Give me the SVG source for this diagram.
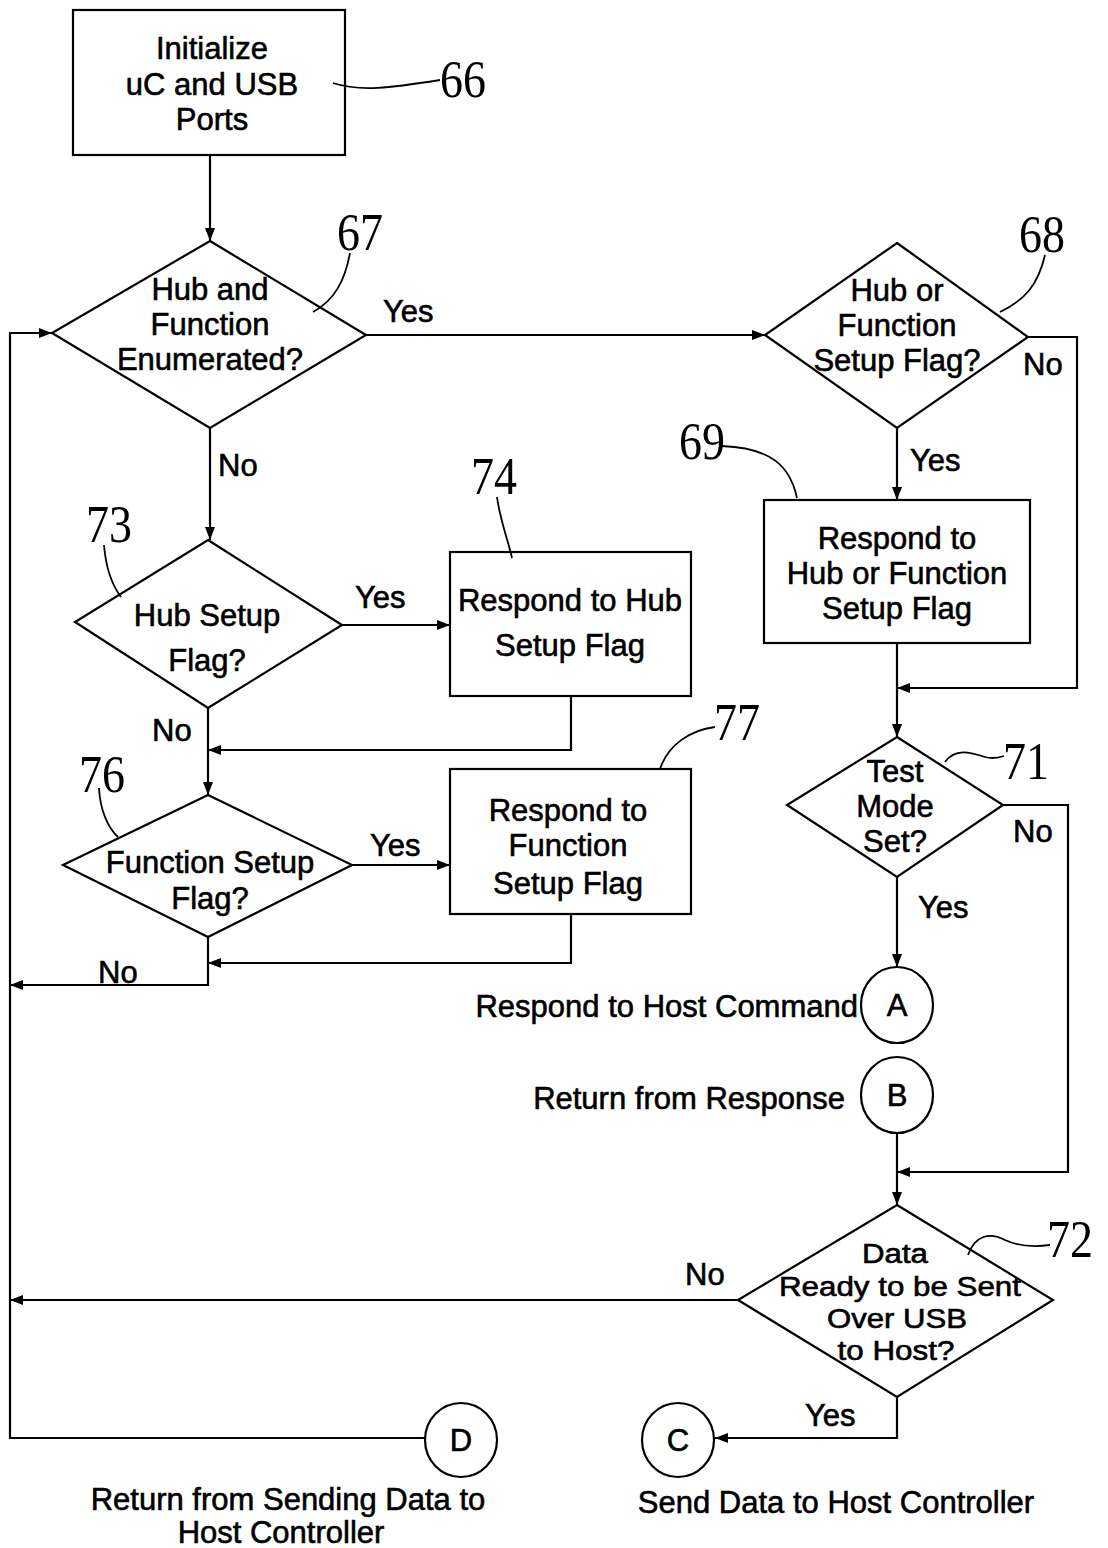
<svg xmlns="http://www.w3.org/2000/svg" width="1108" height="1548" viewBox="0 0 1108 1548">
<style>
.s{fill:#fff;stroke:#000;stroke-width:2.2}
.t{font-family:"Liberation Sans",Arial,sans-serif;font-size:31px;fill:#000;stroke:#000;stroke-width:0.6;text-anchor:middle}
.l{font-family:"Liberation Sans",Arial,sans-serif;font-size:31px;fill:#000;stroke:#000;stroke-width:0.6}
.d{font-family:"Liberation Sans",Arial,sans-serif;font-size:27px;fill:#000;stroke:#000;stroke-width:0.6;text-anchor:middle}
.n{font-family:"Liberation Serif","Times New Roman",serif;font-size:46px;fill:#000}
.c{fill:none;stroke:#000;stroke-width:2.2}
.ld{fill:none;stroke:#000;stroke-width:1.8}
</style>
<defs>
<marker id="ah" markerUnits="userSpaceOnUse" markerWidth="13" markerHeight="10" refX="13" refY="5" orient="auto">
<path d="M0,0 L13,5 L0,10 z" fill="#000"/>
</marker>
</defs>
<rect width="1108" height="1548" fill="#fff"/>
<g id="connectors">
<path class="c" d="M210,155 V241" marker-end="url(#ah)"/>
<path class="c" d="M366,335 H765" marker-end="url(#ah)"/>
<path class="c" d="M1028,337 H1077 V688 H897" marker-end="url(#ah)"/>
<path class="c" d="M897,428 V500" marker-end="url(#ah)"/>
<path class="c" d="M897,643 V737" marker-end="url(#ah)"/>
<path class="c" d="M1003,805 H1068 V1172 H897" marker-end="url(#ah)"/>
<path class="c" d="M897,877 V967" marker-end="url(#ah)"/>
<path class="c" d="M897,1133 V1205" marker-end="url(#ah)"/>
<path class="c" d="M738,1300 H10" marker-end="url(#ah)"/>
<path class="c" d="M897,1397 V1438 H715" marker-end="url(#ah)"/>
<path class="c" d="M425,1438 H10 V333 H52" marker-end="url(#ah)"/>
<path class="c" d="M210,428 V540" marker-end="url(#ah)"/>
<path class="c" d="M342,625 H450" marker-end="url(#ah)"/>
<path class="c" d="M571,696 V750 H208" marker-end="url(#ah)"/>
<path class="c" d="M208,708 V795" marker-end="url(#ah)"/>
<path class="c" d="M352,865 H450" marker-end="url(#ah)"/>
<path class="c" d="M571,914 V963 H208" marker-end="url(#ah)"/>
<path class="c" d="M208,937 V985 H10" marker-end="url(#ah)"/>
<text class="l" x="383" y="322">Yes</text>
<text class="l" x="1023" y="375">No</text>
<text class="l" x="910" y="471">Yes</text>
<text class="l" x="1013" y="842">No</text>
<text class="l" x="918" y="918">Yes</text>
<text class="l" x="685" y="1285">No</text>
<text class="l" x="805" y="1426">Yes</text>
<text class="l" x="218" y="476">No</text>
<text class="l" x="355" y="608">Yes</text>
<text class="l" x="152" y="741">No</text>
<text class="l" x="370" y="856">Yes</text>
<text class="l" x="98" y="983">No</text>
</g>
<g id="n66">
<rect class="s" x="73" y="10" width="272" height="145"/>
<text class="t" x="212" y="59">Initialize</text>
<text class="t" x="212" y="95">uC and USB</text>
<text class="t" x="212" y="130">Ports</text>
<path class="ld" d="M333,83 C360,92 390,88 440,80"/>
<text class="n" transform="translate(440,97) scale(1,1.15)">66</text>
</g>
<g id="n67">
<polygon class="s" points="210,241 366,335 210,428 52,333"/>
<text class="t" x="210" y="300">Hub and</text>
<text class="t" x="210" y="335">Function</text>
<text class="t" x="210" y="370">Enumerated?</text>
<path class="ld" d="M313,312 C335,300 345,280 350,253"/>
<text class="n" transform="translate(337,250) scale(1,1.15)">67</text>
</g>
<g id="n68">
<polygon class="s" points="897,243 1028,337 897,428 765,335"/>
<text class="t" x="897" y="301">Hub or</text>
<text class="t" x="897" y="336">Function</text>
<text class="t" x="897" y="371">Setup Flag?</text>
<path class="ld" d="M1000,312 C1025,300 1038,285 1045,255"/>
<text class="n" transform="translate(1019,252) scale(1,1.15)">68</text>
</g>
<g id="n69">
<rect class="s" x="764" y="500" width="266" height="143"/>
<text class="t" x="897" y="549">Respond to</text>
<text class="t" x="897" y="584">Hub or Function</text>
<text class="t" x="897" y="619">Setup Flag</text>
<path class="ld" d="M722,446 C770,448 790,465 797,498"/>
<text class="n" transform="translate(679,459) scale(1,1.15)">69</text>
</g>
<g id="n71">
<polygon class="s" points="897,737 1003,805 897,877 787,805"/>
<text class="t" x="895" y="782">Test</text>
<text class="t" x="895" y="817">Mode</text>
<text class="t" x="895" y="852">Set?</text>
<path class="ld" d="M945,762 C955,748 970,752 985,757 C992,759 998,758 1004,756"/>
<text class="n" transform="translate(1003,779) scale(1,1.15)">71</text>
</g>
<g id="nA">
<ellipse class="s" cx="897" cy="1005" rx="36" ry="38"/>
<text class="t" x="897" y="1016">A</text>
<text class="l" x="858" y="1017" text-anchor="end">Respond to Host Command</text>
</g>
<g id="nB">
<ellipse class="s" cx="897" cy="1095" rx="36" ry="38"/>
<text class="t" x="897" y="1106">B</text>
<text class="l" x="845" y="1109" text-anchor="end">Return from Response</text>
</g>
<g id="n72">
<polygon class="s" points="897,1205 1053,1300 897,1397 738,1300"/>
<text class="d" x="895" y="1263" textLength="66" lengthAdjust="spacingAndGlyphs">Data</text>
<text class="d" x="900" y="1296" textLength="242" lengthAdjust="spacingAndGlyphs">Ready to be Sent</text>
<text class="d" x="897" y="1328" textLength="140" lengthAdjust="spacingAndGlyphs">Over USB</text>
<text class="d" x="896" y="1360" textLength="117" lengthAdjust="spacingAndGlyphs">to Host?</text>
<path class="ld" d="M968,1255 C975,1235 990,1232 1005,1240 C1020,1247 1035,1247 1050,1245"/>
<text class="n" transform="translate(1047,1257) scale(1,1.15)">72</text>
</g>
<g id="nC">
<ellipse class="s" cx="678" cy="1440" rx="36" ry="37"/>
<text class="t" x="678" y="1451">C</text>
<text class="t" x="836" y="1513">Send Data to Host Controller</text>
</g>
<g id="nD">
<ellipse class="s" cx="461" cy="1440" rx="36" ry="37"/>
<text class="t" x="461" y="1451">D</text>
<text class="t" x="288" y="1510">Return from Sending Data to</text>
<text class="t" x="281" y="1543">Host Controller</text>
</g>
<g id="n73">
<polygon class="s" points="208,540 342,625 208,708 75,622"/>
<text class="t" x="207" y="626">Hub Setup</text>
<text class="t" x="207" y="671">Flag?</text>
<path class="ld" d="M104,545 C106,570 112,585 121,597"/>
<text class="n" transform="translate(86,542) scale(1,1.15)">73</text>
</g>
<g id="n74">
<rect class="s" x="450" y="552" width="241" height="144"/>
<text class="t" x="570" y="611">Respond to Hub</text>
<text class="t" x="570" y="656">Setup Flag</text>
<path class="ld" d="M497,497 C500,520 508,540 512,558"/>
<text class="n" transform="translate(471,494) scale(1,1.15)">74</text>
</g>
<g id="n76">
<polygon class="s" points="208,795 352,865 208,937 63,865"/>
<text class="t" x="210" y="873">Function Setup</text>
<text class="t" x="210" y="909">Flag?</text>
<path class="ld" d="M99,788 C100,810 108,828 118,837"/>
<text class="n" transform="translate(79,792) scale(1,1.15)">76</text>
</g>
<g id="n77">
<rect class="s" x="450" y="769" width="241" height="145"/>
<text class="t" x="568" y="821">Respond to</text>
<text class="t" x="568" y="856">Function</text>
<text class="t" x="568" y="894">Setup Flag</text>
<path class="ld" d="M715,727 C690,730 668,745 660,769"/>
<text class="n" transform="translate(714,740) scale(1,1.15)">77</text>
</g>
</svg>
